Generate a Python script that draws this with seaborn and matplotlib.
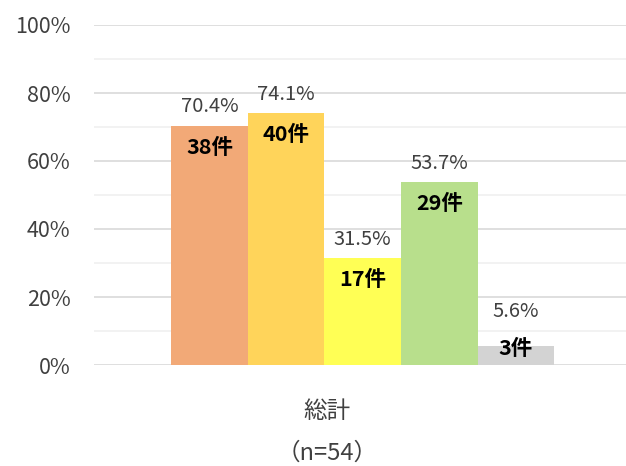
import matplotlib
matplotlib.use("Agg")
import matplotlib.pyplot as plt
import seaborn as sns
import pandas as pd
import numpy as np
from matplotlib.ticker import MultipleLocator, FuncFormatter

# ---- data ----
category = "総計"
sample_label = "（n=54）"
series = ["項目1", "項目2", "項目3", "項目4", "項目5"]
percents = [70.4, 74.1, 31.5, 53.7, 5.6]
counts = [38, 40, 17, 29, 3]
colors = ["#F2A977", "#FFD45A", "#FFFF55", "#B8DF8C", "#D3D3D3"]

sns.set_theme(style="white")
plt.rcParams["font.family"] = ["Noto Sans CJK JP", "DejaVu Sans"]

df = pd.DataFrame({"cat": [category] * len(series), "series": series,
                   "value": [p / 100 for p in percents]})

fig = plt.figure(figsize=(6.26, 4.66), dpi=100)
ax = fig.add_axes([94 / 626, 1 - 365 / 466, 1 - 94 / 626, (365 - 25) / 466])

sns.barplot(data=df, x="cat", y="value", hue="series", palette=colors,
            width=0.72, gap=0, saturation=1, legend=False, ax=ax, zorder=3,
            linewidth=0, edgecolor="none")

ax.set_ylim(0, 1.0)
ax.set_xlim(-0.505, 0.495)
ax.yaxis.set_major_locator(MultipleLocator(0.2))
ax.yaxis.set_minor_locator(MultipleLocator(0.1))
ax.yaxis.set_major_formatter(FuncFormatter(lambda v, _: f"{v*100:.0f}%"))
ax.grid(axis="y", which="major", color="#D9D9D9", lw=1.2, zorder=0)
ax.grid(axis="y", which="minor", color="#F0F0F0", lw=1.2, zorder=0)
ax.set_axisbelow(True)
for s in ax.spines.values():
    s.set_visible(False)
ax.tick_params(axis="y", which="both", length=0, pad=17, labelsize=15.5,
               labelcolor="#404040")
ax.set_xticks([])
ax.set_xlabel("")
ax.set_ylabel("")

# labels
for patch, pct, cnt in zip(ax.patches, percents, counts):
    xc = patch.get_x() + patch.get_width() / 2
    top = patch.get_height()
    small = pct < 10
    ax.annotate(f"{pct:.1f}%", (xc, top), xytext=(0, 25 if small else 13.5),
                textcoords="offset points", ha="center", va="center",
                fontsize=14.5, color="#404040")
    ax.annotate(f"{cnt}件", (xc, top), xytext=(0, -2 if small else -15.5),
                textcoords="offset points", ha="center", va="center",
                fontsize=15.5, fontweight="bold", color="black")

fig.text(327 / 626, 1 - 412 / 466, category, ha="center", va="center",
         fontsize=17, color="#404040")
fig.text(327 / 626, 1 - 453 / 466, sample_label, ha="center", va="center",
         fontsize=17, color="#404040")

fig.savefig("out.png", dpi=100)
